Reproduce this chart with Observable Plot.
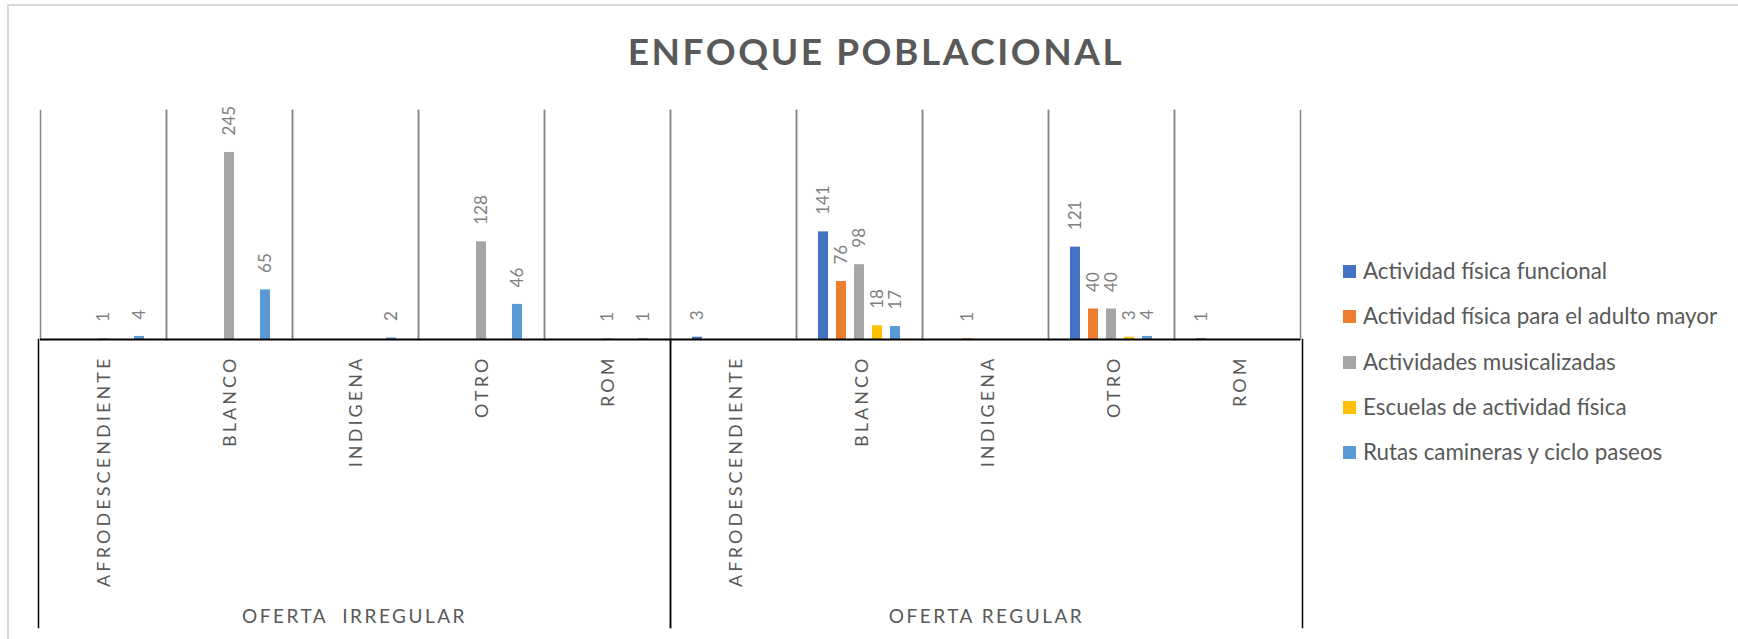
<!DOCTYPE html>
<html>
<head>
<meta charset="utf-8">
<script src="https://cdn.jsdelivr.net/npm/d3@7"></script>
<script src="https://cdn.jsdelivr.net/npm/@observablehq/plot@0.6"></script>
<style>
  html, body { margin: 0; padding: 0; background: #fff; }
  #page { position: relative; width: 1738px; height: 639px; overflow: hidden; font-family: Lato, "Open Sans", sans-serif; }
  #border { position: absolute; left: 7px; top: 4px; width: 1760px; height: 660px; border-left: 2px solid #d9d9d9; border-top: 2px solid #d9d9d9; }
  #title { position: absolute; left: 14px; top: 28px; width: 1724px; text-align: center; font-weight: 700; font-size: 37px; letter-spacing: 2.55px; color: #595959; }
  #bars { position: absolute; left: 0; top: 90px; z-index: 2; }
  #cats { position: absolute; left: 0; top: 339px; z-index: 1; }
  #legend { position: absolute; left: 1343px; top: 257px; color: #595959; font-size: 22.4px; }
  .item { height: 45.3px; display: flex; align-items: flex-start; white-space: nowrap; line-height: 27px; }
  .sw { width: 13px; height: 13px; margin-right: 7px; margin-top: 8px; flex: none; }
  svg text { white-space: pre; }
</style>
</head>
<body>
<div id="page">
  <div id="border"></div>
  <div id="title"></div>
  <div id="bars"></div>
  <div id="cats"></div>
  <div id="legend"></div>
</div>
<script>
const title = "ENFOQUE POBLACIONAL";
const groups = ["OFERTA  IRREGULAR", "OFERTA REGULAR"];
const categories = ["AFRODESCENDIENTE", "BLANCO", "INDIGENA", "OTRO", "ROM"];
const series = [
  "Actividad física funcional",
  "Actividad física para el adulto mayor",
  "Actividades musicalizadas",
  "Escuelas de actividad física",
  "Rutas camineras y ciclo paseos"
];
const colors = ["#4472C4", "#ED7D31", "#A5A5A5", "#FFC000", "#5B9BD5"];
// values per series: 5 categories of OFERTA IRREGULAR, then 5 of OFERTA REGULAR
const funcional      = [null, null, null, null, null,   3, 141, null, 121, 1];
const adultoMayor    = [null, null, null, null, null,   null, 76, 1, 40, null];
const musicalizadas  = [1, 245, null, 128, 1,           null, 98, null, 40, null];
const escuelas       = [null, null, null, null, null,   null, 18, null, 3, null];
const rutas          = [4, 65, 2, 46, 1,                null, 17, null, 4, null];
const seriesValues = [funcional, adultoMayor, musicalizadas, escuelas, rutas];

document.getElementById("title").textContent = title;

const keyOf = (g, c) => g + "|" + c;
const keys = groups.flatMap(g => categories.map(c => keyOf(g, c)));
const rows = [];
seriesValues.forEach((vals, si) => {
  vals.forEach((v, i) => {
    if (v == null) return;
    const g = groups[Math.floor(i / categories.length)];
    const c = categories[i % categories.length];
    rows.push({key: keyOf(g, c), group: g, cat: c, series: series[si], value: v});
  });
});

const bars = Plot.plot({
  width: 1738,
  height: 251,
  marginLeft: 37,
  marginRight: 436,
  marginTop: 20,
  marginBottom: 2,
  style: {background: "transparent", fontFamily: "Lato, sans-serif", overflow: "visible"},
  fx: {domain: keys, padding: 0, axis: null},
  x: {domain: series, paddingInner: 0.46, paddingOuter: 1.13, axis: null},
  y: {domain: [0, 300], axis: null},
  color: {domain: series, range: colors},
  marks: [
    Plot.frame({anchor: "left", stroke: "#858585", strokeWidth: 1.5}),
    Plot.frame({anchor: "right", stroke: "#858585", strokeWidth: 1.5}),
    Plot.barY(rows, {fx: "key", x: "series", y: "value", fill: "series"}),
    Plot.text(rows, {fx: "key", x: "series", y: "value", text: d => String(d.value),
      rotate: -90, textAnchor: "start", dy: -17, fill: "#7f7f7f", fontSize: 17}),
    Plot.ruleY([0], {stroke: "#000", strokeWidth: 1.8})
  ]
});
document.getElementById("bars").appendChild(bars);

const catRows = groups.flatMap(g => categories.map(c => ({group: g, cat: c})));
const cats = Plot.plot({
  width: 1738,
  height: 300,
  marginLeft: 37,
  marginRight: 436,
  marginTop: 0,
  marginBottom: 12,
  style: {background: "transparent", fontFamily: "Lato, sans-serif", overflow: "visible"},
  fx: {domain: groups, padding: 0, axis: null},
  x: {domain: categories, type: "point", padding: 0.5, axis: null},
  marks: [
    Plot.frame({anchor: "left", stroke: "#000", strokeWidth: 1.5}),
    Plot.frame({anchor: "right", stroke: "#000", strokeWidth: 1.5}),
    Plot.text(catRows, {fx: "group", x: "cat", text: "cat", rotate: -90, textAnchor: "end",
      frameAnchor: "top", dy: 16, dx: -5, fontSize: 18, fill: "#595959"}),
    Plot.text(groups, {fx: d => d, text: d => d, frameAnchor: "bottom", lineAnchor: "bottom",
      dy: -5, fontSize: 19, fill: "#595959"})
  ]
});
document.getElementById("cats").appendChild(cats);
d3.select(cats).selectAll("text").each(function() {
  const t = this.textContent;
  d3.select(this).attr("letter-spacing", groups.includes(t) ? "2.5px" : "3.1px");
});

const legend = d3.select("#legend");
series.forEach((s, i) => {
  const it = legend.append("div").attr("class", "item");
  it.append("div").attr("class", "sw").style("background", colors[i]);
  it.append("span").text(s);
});
</script>
</body>
</html>
